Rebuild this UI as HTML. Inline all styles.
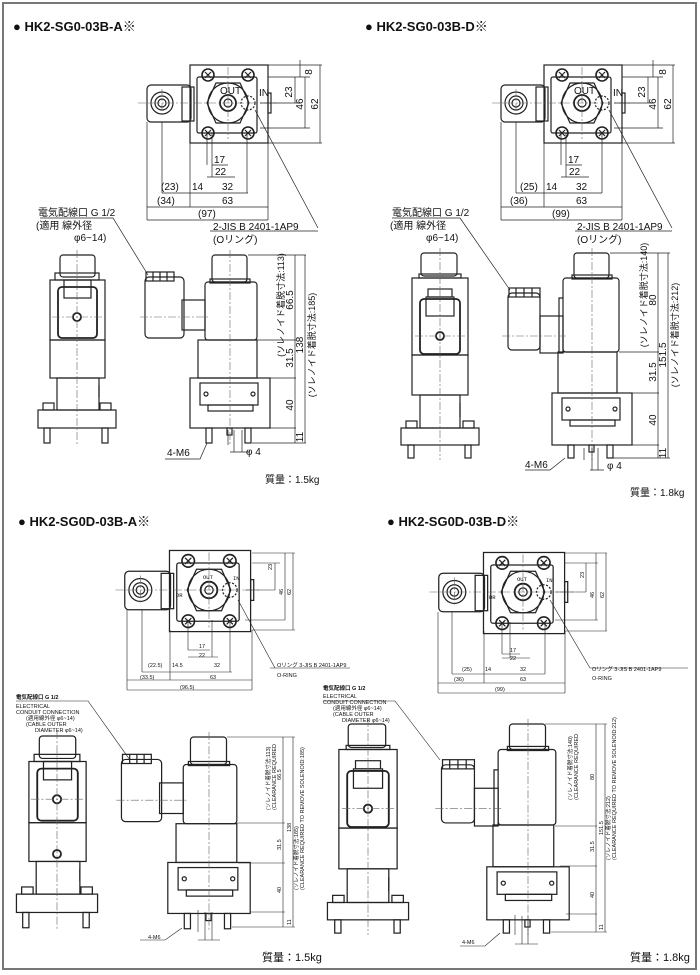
<!DOCTYPE html>
<html><head><meta charset="utf-8">
<style>
html,body{margin:0;padding:0;background:#fff;}
svg{display:block;}
text{font-family:"Liberation Sans","Noto Sans CJK JP",sans-serif;fill:#111;}
.t{font-size:13px;font-weight:bold;}
.d{font-size:10px;}
.v{font-size:9px;}
.s{font-size:5.5px;font-family:"Liberation Mono","Noto Sans CJK JP",monospace;}
</style></head><body>
<svg width="700" height="975" viewBox="0 0 700 975" xmlns="http://www.w3.org/2000/svg">
<defs>
<g id="tv" fill="none" stroke="#222" stroke-width="1.2">
  <rect x="-38" y="-38" width="78" height="78"/>
  <rect x="-31" y="-26" width="60" height="56" rx="2"/>
  <rect x="40" y="-10" width="3" height="20"/>
  <rect x="-81" y="-18" width="44" height="37" rx="4"/>
  <rect x="-46" y="-16" width="12" height="34"/>
  <circle cx="-66" cy="0" r="11"/><circle cx="-66" cy="0" r="7"/><circle cx="-66" cy="0" r="4"/>
  <polygon points="-12,-20 12,-20 21,0 12,20 -12,20 -21,0"/>
  <circle cx="0" cy="0" r="20"/><circle cx="0" cy="0" r="8" stroke-width="1.8"/><circle cx="0" cy="0" r="4"/>
  <circle cx="20" cy="0" r="7" stroke-dasharray="2 1.5"/>
  <g stroke-width="1.6">
  <circle cx="-20" cy="-28" r="6"/><circle cx="20" cy="-28" r="6"/><circle cx="-20" cy="30" r="6"/><circle cx="20" cy="30" r="6"/>
  </g>
  <path d="M-23,-31l6,6M-17,-31l-6,6M17,-31l6,6M23,-31l-6,6M-23,27l6,6M-17,27l-6,6M17,27l6,6M23,27l-6,6"/>
  <path d="M-90,0H50M0,-36V36M-66,-14V14" stroke="#666" stroke-width="0.6" stroke-dasharray="8 2 2 2"/>
</g>
<g id="fv" fill="none" stroke="#222" stroke-width="1.2">
  <rect x="-17" y="0" width="35" height="22" rx="3"/>
  <rect x="-22" y="18" width="44" height="7"/>
  <rect x="-27" y="25" width="55" height="60"/>
  <rect x="-19" y="32" width="39" height="51" rx="4" stroke-width="1.8"/>
  <rect x="-13" y="25" width="27" height="18"/>
  <circle cx="0" cy="62" r="4" stroke-width="1.8"/>
  <rect x="-27" y="85" width="55" height="38"/>
  <rect x="-20" y="123" width="42" height="32"/>
  <rect x="-39" y="155" width="78" height="18"/>
  <rect x="-34" y="148" width="11" height="7"/><rect x="23" y="148" width="11" height="7"/>
  <rect x="-33" y="173" width="6" height="15"/><rect x="25" y="173" width="6" height="15"/>
  <path d="M22,130v12"/>
  <path d="M0,-5V190M-25,62H25" stroke="#666" stroke-width="0.6" stroke-dasharray="8 2 2 2"/>
</g>
<g id="sv" fill="none" stroke="#222" stroke-width="1.2">
  <rect x="-18" y="0" width="35" height="27" rx="3"/>
  <rect x="-20" y="24" width="40" height="4"/>
  <rect x="-25" y="27" width="52" height="58" rx="3"/>
  <rect x="-85" y="22" width="39" height="61" rx="4"/>
  <rect x="-84" y="17" width="28" height="9"/>
  <path d="M-77,17v9M-70,17v9M-63,17v9"/>
  <rect x="-48" y="45" width="23" height="30"/>
  <rect x="-32" y="85" width="59" height="38"/>
  <rect x="-40" y="123" width="80" height="50"/>
  <rect x="-30" y="128" width="58" height="22"/>
  <circle cx="-24" cy="139" r="2"/><circle cx="23" cy="139" r="2"/>
  <rect x="-22" y="150" width="45" height="6"/>
  <rect x="-24" y="173" width="6" height="15"/><rect x="15" y="173" width="6" height="15"/>
  <rect x="-3" y="173" width="5" height="7"/>
  <path d="M0,-5V190M-90,62H-20" stroke="#666" stroke-width="0.6" stroke-dasharray="8 2 2 2"/>
</g>
<g id="fvD" fill="none" stroke="#222" stroke-width="1.2">
  <rect x="-19" y="0" width="36" height="23" rx="3"/>
  <rect x="-21" y="21" width="42" height="4"/>
  <rect x="-28" y="25" width="56" height="77"/>
  <rect x="-20" y="46" width="40" height="55" rx="4" stroke-width="1.8"/>
  <rect x="-12" y="36" width="24" height="8"/>
  <rect x="-14" y="44" width="28" height="19"/>
  <circle cx="0" cy="83" r="4" stroke-width="1.8"/>
  <rect x="-28" y="102" width="56" height="40"/>
  <rect x="-20" y="142" width="40" height="33"/>
  <rect x="-39" y="175" width="78" height="17"/>
  <rect x="-34" y="168" width="11" height="7"/><rect x="23" y="168" width="11" height="7"/>
  <rect x="-32" y="192" width="6" height="13"/><rect x="25" y="192" width="6" height="13"/>
  <path d="M20,150v14"/>
  <path d="M0,-5V207M-25,83H25" stroke="#666" stroke-width="0.6" stroke-dasharray="8 2 2 2"/>
</g>
<g id="svD" fill="none" stroke="#222" stroke-width="1.2">
  <rect x="-18" y="0" width="35" height="25" rx="3"/>
  <rect x="-20" y="22" width="40" height="4"/>
  <rect x="-29" y="25" width="56" height="74" rx="3"/>
  <rect x="-84" y="40" width="32" height="57" rx="4"/>
  <rect x="-83" y="35" width="31" height="9"/>
  <path d="M-76,35v9M-68,35v9M-60,35v9"/>
  <rect x="-52" y="63" width="23" height="37"/>
  <path d="M-33,63v37M-29,45h-4v18"/>
  <rect x="-34" y="99" width="59" height="41"/>
  <rect x="-40" y="140" width="80" height="52"/>
  <rect x="-30" y="145" width="58" height="22"/>
  <circle cx="-24" cy="156" r="2"/><circle cx="23" cy="156" r="2"/>
  <rect x="-22" y="167" width="45" height="6"/>
  <rect x="-24" y="192" width="6" height="13"/><rect x="15" y="192" width="6" height="13"/>
  <rect x="-3" y="192" width="5" height="7"/>
  <path d="M0,-5V207M-90,83H-25" stroke="#666" stroke-width="0.6" stroke-dasharray="8 2 2 2"/>
</g>
</defs>
<rect x="3" y="3" width="693" height="966" fill="none" stroke="#777" stroke-width="2"/>

<!-- Q1 -->
<text class="t" x="13" y="31">● HK2-SG0-03B-A※</text>
<use href="#tv" transform="translate(228,103)"/>
<text class="d" x="220" y="94" font-size="9">OUT</text><text class="d" x="259" y="96" font-size="9">IN</text>
<g stroke="#222" stroke-width="0.7" fill="none">
<path d="M268,65H322M268,77H310M265,143H322M260,128H310M300,60V77M295,77V103M305,77V128M320,65V143M260,103H300"/>
<path d="M207,133V165M212,133V177M247,133V193M190,143V207M268,143V220M147,122V220M162,122V193M212,165H228M207,177H235M162,193H248M147,207H268M147,220H268M255,110L318,228M210,231H318M40,218H113L148,275"/>
</g>
<g class="d"><text x="214" y="163">17</text><text x="215" y="175">22</text><text x="222" y="190">32</text><text x="192" y="190">14</text><text x="161" y="190">(23)</text><text x="157" y="204">(34)</text><text x="222" y="204">63</text><text x="198" y="217">(97)</text>
<text transform="translate(312,72) rotate(-90)" text-anchor="middle">8</text><text transform="translate(292,92) rotate(-90)" text-anchor="middle">23</text><text transform="translate(303,104) rotate(-90)" text-anchor="middle">46</text><text transform="translate(318,104) rotate(-90)" text-anchor="middle">62</text>
<text x="213" y="230">2-JIS  B  2401-1AP9</text><text x="213" y="243">(Oリング)</text>
<text x="38" y="216">電気配線口  G 1/2</text><text x="36" y="229">(適用 線外径</text><text x="74" y="241">φ6~14)</text></g>
<use href="#fv" transform="translate(77,255)"/>
<use href="#sv" transform="translate(230,255)"/>
<g stroke="#222" stroke-width="0.7" fill="none"><path d="M248,255H306M257,340H296M260,378H296M270,428H296M252,443H306M295,255V443M305,255V443M165,459H200L207,443M228,430V445M234,430V452M242,430V452M230,452H250"/></g>
<g class="d"><text transform="translate(293,300) rotate(-90)" text-anchor="middle">66.5</text><text transform="translate(293,358) rotate(-90)" text-anchor="middle">31.5</text><text transform="translate(293,405) rotate(-90)" text-anchor="middle">40</text><text transform="translate(303,345) rotate(-90)" text-anchor="middle">138</text><text transform="translate(303,437) rotate(-90)" text-anchor="middle">11</text>
<text class="v" transform="translate(284,305) rotate(-90)" text-anchor="middle">(ソレノイド着脱寸法:113)</text><text class="v" transform="translate(315,345) rotate(-90)" text-anchor="middle">(ソレノイド着脱寸法:185)</text>
<text x="167" y="456">4-M6</text><text x="246" y="455">φ 4</text><text x="265" y="483">質量：1.5kg</text></g>

<!-- Q2 -->
<text class="t" x="365" y="31">● HK2-SG0-03B-D※</text>
<use href="#tv" transform="translate(582,103)"/>
<text class="d" x="574" y="94" font-size="9">OUT</text><text class="d" x="613" y="96" font-size="9">IN</text>
<g stroke="#222" stroke-width="0.7" fill="none">
<path d="M622,65H675M622,77H663M620,143H675M614,128H663M653,60V77M648,77V103M658,77V128M673,65V143M614,103H652"/>
<path d="M561,133V165M566,133V177M602,133V193M544,143V207M622,143V220M501,122V220M516,122V193M566,165H582M561,177H589M516,193H602M501,207H622M501,220H622M609,110L672,228M575,231H672M392,218H460L510,290"/>
</g>
<g class="d"><text x="568" y="163">17</text><text x="569" y="175">22</text><text x="576" y="190">32</text><text x="546" y="190">14</text><text x="520" y="190">(25)</text><text x="510" y="204">(36)</text><text x="576" y="204">63</text><text x="552" y="217">(99)</text>
<text transform="translate(666,72) rotate(-90)" text-anchor="middle">8</text><text transform="translate(645,92) rotate(-90)" text-anchor="middle">23</text><text transform="translate(656,104) rotate(-90)" text-anchor="middle">46</text><text transform="translate(671,104) rotate(-90)" text-anchor="middle">62</text>
<text x="577" y="230">2-JIS  B  2401-1AP9</text><text x="577" y="243">(Oリング)</text>
<text x="392" y="216">電気配線口  G 1/2</text><text x="390" y="229">(適用 線外径</text><text x="426" y="241">φ6~14)</text></g>
<use href="#fvD" transform="translate(440,253)"/>
<use href="#svD" transform="translate(592,253)"/>
<g stroke="#222" stroke-width="0.7" fill="none"><path d="M610,253H670M619,352H659M617,393H659M632,445H659M612,458H670M658,253V458M668,253V458M525,470H550L565,458M584,448V460M592,448V470M598,448V470M590,470H604"/></g>
<g class="d"><text transform="translate(656,300) rotate(-90)" text-anchor="middle">80</text><text transform="translate(656,372) rotate(-90)" text-anchor="middle">31.5</text><text transform="translate(656,420) rotate(-90)" text-anchor="middle">40</text><text transform="translate(666,355) rotate(-90)" text-anchor="middle">151.5</text><text transform="translate(666,453) rotate(-90)" text-anchor="middle">11</text>
<text class="v" transform="translate(647,295) rotate(-90)" text-anchor="middle">(ソレノイド着脱寸法:140)</text><text class="v" transform="translate(678,335) rotate(-90)" text-anchor="middle">(ソレノイド着脱寸法:212)</text>
<text x="525" y="468">4-M6</text><text x="607" y="469">φ 4</text><text x="630" y="496">質量：1.8kg</text></g>

<!-- Q3 -->
<text class="t" x="18" y="526">● HK2-SG0D-03B-A※</text>
<use href="#tv" transform="translate(209,590) scale(1.04)"/>
<text class="s" x="203" y="579">OUT</text><text class="s" x="233" y="580">IN</text><text class="s" x="176" y="597">DR</text>
<g stroke="#222" stroke-width="0.6" fill="none">
<path d="M252,553H295M252,563H280M252,630H295M245,620H285M275,563V590M285,553V620M293,553V630M245,590H275"/>
<path d="M188,620V650M212,620V657M230,620V672M170,630V680M252,630V690M127,610V690M142,610V672M188,650H210M188,657H218M142,672H232M127,680H252M127,690H252M238,600L275,668M270,668H350M16,701H88L130,760"/>
</g>
<g class="s"><text x="199" y="648">17</text><text x="199" y="657">22</text><text x="214" y="667">32</text><text x="172" y="667">14.5</text><text x="148" y="667">(22.5)</text><text x="140" y="679">(33.5)</text><text x="210" y="679">63</text><text x="180" y="689">(96.5)</text>
<text x="277" y="667">Oリング  3-JIS B 2401-1AP9</text><text x="277" y="677">O-RING</text>
<text x="16" y="699" font-weight="bold">電気配線口   G 1/2</text><text x="16" y="708">ELECTRICAL</text><text x="16" y="714">CONDUIT  CONNECTION</text><text x="26" y="720">(適用線外径 φ6~14)</text><text x="26" y="726">(CABLE OUTER</text><text x="35" y="732">DIAMETER φ6~14)</text>
<text transform="translate(272,570) rotate(-90)">23</text><text transform="translate(283,595) rotate(-90)">46</text><text transform="translate(291,595) rotate(-90)">62</text></g>
<use href="#fv" transform="translate(57,736) scale(1.04,1.02)"/>
<circle cx="57" cy="854" r="4" fill="none" stroke="#222" stroke-width="1.8"/>
<use href="#sv" transform="translate(209,737) scale(1.03,1.02)"/>
<g stroke="#222" stroke-width="0.6" fill="none"><path d="M227,737H295M237,823H285M238,863H285M250,912H285M232,927H295M283,737V927M293,737V927M140,940H165L182,928M198,910V932M205,912V940M212,912V940M198,940H220"/></g>
<g class="s"><text transform="translate(281,780) rotate(-90)">66.5</text><text transform="translate(281,850) rotate(-90)">31.5</text><text transform="translate(281,893) rotate(-90)">40</text><text transform="translate(291,832) rotate(-90)">138</text><text transform="translate(291,925) rotate(-90)">11</text>
<text transform="translate(270,810) rotate(-90)">(ソレノイド着脱寸法:113)</text><text transform="translate(276,810) rotate(-90)">(CLEARANCE REQUIRED</text><text transform="translate(298,890) rotate(-90)">(ソレノイド着脱寸法:185)</text><text transform="translate(304,890) rotate(-90)">(CLEARANCE REQUIRED TO REMOVE SOLENOID:185)</text>
<text x="148" y="939">4-M6</text></g>
<text x="262" y="961" font-size="11">質量：1.5kg</text>

<!-- Q4 -->
<text class="t" x="387" y="526">● HK2-SG0D-03B-D※</text>
<use href="#tv" transform="translate(523,592) scale(1.04)"/>
<text class="s" x="517" y="581">OUT</text><text class="s" x="546" y="582">IN</text><text class="s" x="489" y="599">DR</text>
<g stroke="#222" stroke-width="0.6" fill="none">
<path d="M565,553H607M565,563H598M565,631H607M555,620H598M586,563V592M596,553V620M606,553V631M555,592H586"/>
<path d="M502,622V654M510,622V658M545,622V674M484,631V683M565,631V693M438,612V693M452,612V674M502,654H520M502,658H530M452,674H545M438,683H565M438,693H565M550,600L590,668M590,668H688M323,701H395L440,760"/>
</g>
<g class="s"><text x="510" y="652">17</text><text x="510" y="660">22</text><text x="520" y="671">32</text><text x="485" y="671">14</text><text x="462" y="671">(25)</text><text x="454" y="681">(36)</text><text x="520" y="681">63</text><text x="495" y="691">(99)</text>
<text x="592" y="671">Oリング  3-JIS B 2401-1AP9</text><text x="592" y="680">O-RING</text>
<text x="323" y="690" font-weight="bold">電気配線口   G 1/2</text><text x="323" y="698">ELECTRICAL</text><text x="323" y="704">CONDUIT  CONNECTION</text><text x="333" y="710">(適用線外径 φ6~14)</text><text x="333" y="716">(CABLE OUTER</text><text x="342" y="722">DIAMETER φ6~14)</text>
<text transform="translate(584,578) rotate(-90)">23</text><text transform="translate(594,598) rotate(-90)">46</text><text transform="translate(604,598) rotate(-90)">62</text></g>
<use href="#fvD" transform="translate(368,724) scale(1.04,1.02)"/>
<use href="#svD" transform="translate(528,724) scale(1.03,1.02)"/>
<g stroke="#222" stroke-width="0.6" fill="none"><path d="M545,724H607M555,826H597M560,866H597M566,914H597M551,932H607M596,724V932M605,724V932M460,946H485L500,933M515,915V935M522,916V944M528,916V944M515,944H538"/></g>
<g class="s"><text transform="translate(594,780) rotate(-90)">80</text><text transform="translate(594,852) rotate(-90)">31.5</text><text transform="translate(594,898) rotate(-90)">40</text><text transform="translate(603,835) rotate(-90)">151.5</text><text transform="translate(603,930) rotate(-90)">11</text>
<text transform="translate(572,800) rotate(-90)">(ソレノイド着脱寸法:140)</text><text transform="translate(578,800) rotate(-90)">(CLEARANCE REQUIRED</text><text transform="translate(610,860) rotate(-90)">(ソレノイド着脱寸法:212)</text><text transform="translate(616,860) rotate(-90)">(CLEARANCE REQUIRED TO REMOVE SOLENOID:212)</text>
<text x="462" y="944">4-M6</text></g>
<text x="630" y="961" font-size="11">質量：1.8kg</text>
</svg>
</body></html>
